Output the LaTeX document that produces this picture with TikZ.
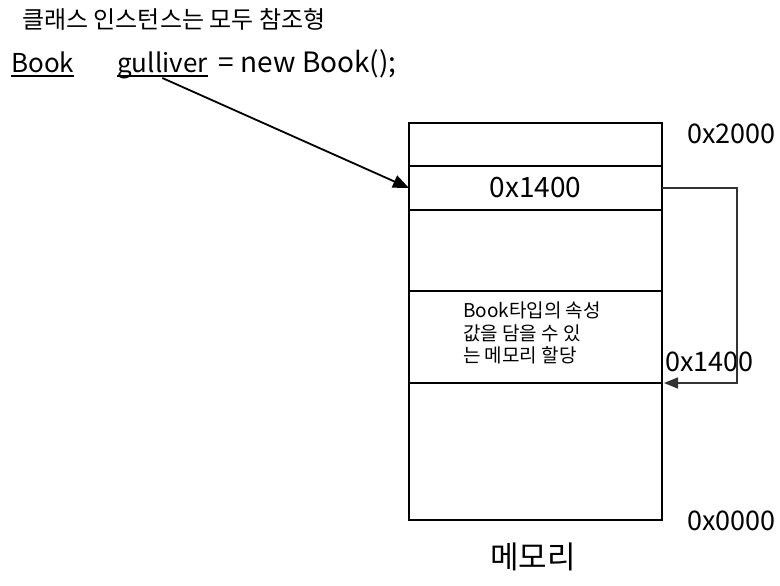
\documentclass[tikz,border=0pt]{standalone}
\usepackage{fontspec}
\setmainfont{Noto Sans CJK KR}
\usetikzlibrary{arrows.meta,positioning}
\tikzset{
  txt/.style={inner sep=0pt},
  code/.style={inner sep=0pt, anchor=base west, font=\fontsize{26}{30}\selectfont},
  cell/.style={draw, line width=2pt, minimum width=253pt, inner sep=0pt, outer sep=0pt},
  addr/.style={inner sep=0pt, anchor=west, font=\fontsize{27}{32}\selectfont}
}
\begin{document}
\begin{tikzpicture}[x=1pt,y=-1pt]
  \useasboundingbox (0,0) rectangle (780,586);
  % title and code line
  \node[txt, anchor=west, font=\fontsize{24}{28}\selectfont] (title) at (22,19) {클래스 인스턴스는 모두 참조형};
  \node[code] (book) at (11,73) {Book};
  \node[code] (gulliver) at (117,73) {gulliver};
  \node[code, font=\fontsize{28}{32}\selectfont] (rest) at ([xshift=11pt]gulliver.base east) {= new Book();};
  \draw[line width=1.5pt] ([yshift=-3pt]book.base west) -- ([yshift=-3pt]book.base east);
  \draw[line width=1.5pt] ([yshift=-3pt]gulliver.base west) -- ([yshift=-3pt]gulliver.base east);
  % memory
  \node[cell, minimum height=43pt] (top) at (535.5,144.5) {};
  \node[cell, minimum height=44pt, below=0pt of top, font=\fontsize{28}{32}\selectfont] (ptr) {0x1400};
  \node[cell, minimum height=81pt, below=0pt of ptr] (free) {};
  \node[cell, minimum height=92pt, below=0pt of free] (obj) {};
  \node[cell, minimum height=137pt, below=0pt of obj] (bottom) {};
  \node[txt, anchor=north west, align=left, font=\fontsize{19}{22.5}\selectfont] (objtext) at (463,302) {Book타입의 속성\\값을 담을 수 있\\는 메모리 할당};
  \node[txt, font=\fontsize{31}{36}\selectfont] (mem) at (533,557) {메모리};
  \node[addr] (a2000) at (687,134) {0x2000};
  \node[addr] (a0000) at (687,521) {0x0000};
  \node[addr] (a1400) at (665,362) {0x1400};
  % connectors
  \coordinate (bend) at (737,188);
  \draw[-{Triangle[length=16pt,width=13pt]}, line width=1.8pt] ([yshift=-5pt]gulliver.base) -- (ptr.west);
  \draw[-{Triangle[length=14pt,width=11pt]}, line width=1.6pt, black!80] (ptr.east) -- (bend) |- ([xshift=2pt]obj.south east);
\end{tikzpicture}
\end{document}
